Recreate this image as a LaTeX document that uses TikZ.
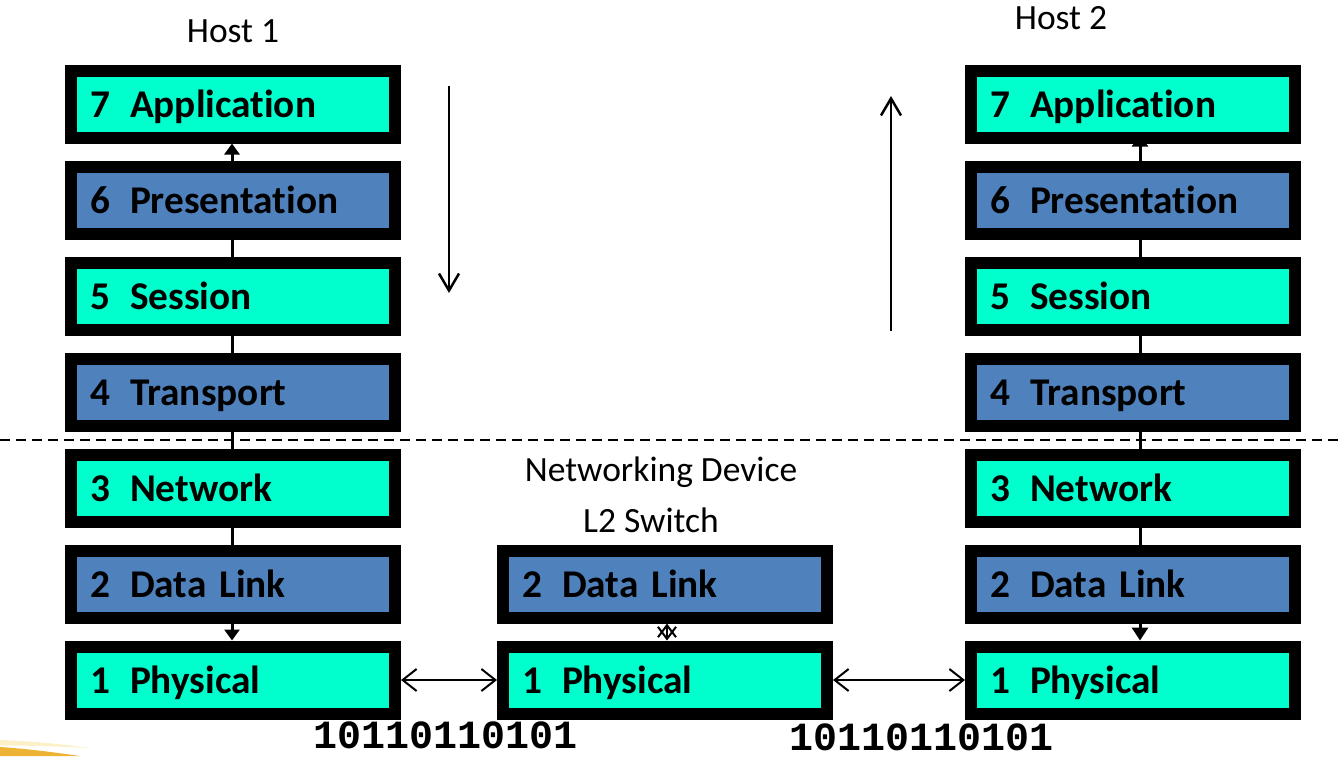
\documentclass[tikz,border=0pt]{standalone}
\usepackage{fontspec}
\newfontfamily\labelfont[Ligatures=NoCommon]{Carlito}
\newfontfamily\bitfont{Liberation Mono}
\usetikzlibrary{arrows.meta}
\pgfdeclarelayer{bg}
\pgfdeclarelayer{paper}
\pgfsetlayers{paper,bg,main}

\definecolor{layeraqua}{HTML}{00FFCC}
\definecolor{layerblue}{HTML}{4F81BD}
\definecolor{swoosh}{HTML}{EDB334}
\definecolor{swooshpale}{HTML}{FBF0C8}

\newcommand{\numgap}{\hspace{7pt}}

\begin{document}
\begin{tikzpicture}[x=1pt,y=-1pt,
  layerbox/.style={draw=black, line width=12pt, minimum width=324pt,
    minimum height=67pt, inner xsep=19pt, inner ysep=0pt, text width=286pt,
    align=left, text height=30pt, text depth=4pt,
    font=\labelfont\bfseries\fontsize{39.3}{42}\selectfont},
  aqualayer/.style={layerbox, fill=layeraqua},
  bluelayer/.style={layerbox, fill=layerblue},
  caption/.style={font=\labelfont\fontsize{35.5}{38}\selectfont, anchor=base, inner sep=0pt},
  bits/.style={font=\bitfont\bfseries\fontsize{40}{42}\selectfont, anchor=base, inner sep=0pt},
  link/.style={line width=3pt},
  uptip/.style={-{Triangle[length=11pt,width=15pt]}},
  wire/.style={line width=2pt, {Straight Barb[length=14pt,width=22pt]}-{Straight Barb[length=14pt,width=22pt]}},
  flow/.style={line width=2.5pt, -{Straight Barb[length=17pt,width=20pt]}},
  boundary/.style={line width=1.5pt, dash pattern=on 10pt off 6pt}
]
\useasboundingbox (0,0) rectangle (1341,756);
\begin{pgfonlayer}{paper}
\fill[white] (0,0) rectangle (1341,756);
% decorative swoosh in the lower left corner
\fill[swooshpale] (0,740) .. controls (30,741) and (60,744) .. (90,748)
  .. controls (60,746.5) and (30,745.5) .. (0,745.5) -- cycle;
\fill[swoosh] (0,747) .. controls (30,749) and (55,752.5) .. (80,756)
  -- (0,756) -- cycle;
\end{pgfonlayer}

% host 1 stack
\node[aqualayer] (l7) at (233,104) {7 \numgap Application};
\node[bluelayer] (l6) at (233,200) {6 \numgap Presentation};
\node[aqualayer] (l5) at (233,296) {5 \numgap Session};
\node[bluelayer] (l4) at (233,392) {4 \numgap Transport};
\node[aqualayer] (l3) at (233,488) {3 \numgap Network};
\node[bluelayer] (l2) at (233,584) {2 \numgap Data Link};
\node[aqualayer] (l1) at (233,680) {1 \numgap Physical};

% switch
\node[bluelayer] (m2) at (665,584) {2 \numgap Data Link};
\node[aqualayer] (m1) at (665,680) {1 \numgap Physical};

% host 2 stack
\node[aqualayer] (r7) at (1133,104) {7 \numgap Application};
\node[bluelayer] (r6) at (1133,200) {6 \numgap Presentation};
\node[aqualayer] (r5) at (1133,296) {5 \numgap Session};
\node[bluelayer] (r4) at (1133,392) {4 \numgap Transport};
\node[aqualayer] (r3) at (1133,488) {3 \numgap Network};
\node[bluelayer] (r2) at (1133,584) {2 \numgap Data Link};
\node[aqualayer] (r1) at (1133,680) {1 \numgap Physical};

% captions
\node[caption] (host1) at (233,42) {Host 1};
\node[caption] (host2) at (1061,29) {Host 2};
\node[caption] (netdev) at (661,481) {Networking Device};
\node[caption] (l2sw) at (651,532) {L2 Switch};

% inter-layer links, kept behind the boxes
\begin{pgfonlayer}{bg}
\draw[link, uptip] ([xshift=-1pt]l6.north) -- ([xshift=-1pt]l7.south);
\draw[link] ([xshift=-1pt]l6.south) -- ([xshift=-1pt]l5.north);
\draw[link] ([xshift=-1pt]l5.south) -- ([xshift=-1pt]l4.north);
\draw[link] ([xshift=-1pt]l4.south) -- ([xshift=-1pt]l3.north);
\draw[link] ([xshift=-1pt]l3.south) -- ([xshift=-1pt]l2.north);
\draw[link, uptip] ([xshift=-1pt]l2.south) -- ([xshift=-1pt]l1.north);

\draw[line width=2pt, {Straight Barb[length=12pt,width=18pt]}-{Straight Barb[length=12pt,width=18pt]}]
  ([xshift=2pt]m2.south) -- ([xshift=2pt]m1.north);

\draw[link, -{Triangle[length=11pt,width=16pt]}] ([xshift=7pt]r6.north) -- ([xshift=7pt,yshift=8pt]r7.south);
\draw[link] ([xshift=7pt]r6.south) -- ([xshift=7pt]r5.north);
\draw[link] ([xshift=7pt]r5.south) -- ([xshift=7pt]r4.north);
\draw[link] ([xshift=7pt]r4.south) -- ([xshift=7pt]r3.north);
\draw[link] ([xshift=7pt]r3.south) -- ([xshift=7pt]r2.north);
\draw[link, -{Triangle[length=13pt,width=16pt]}] ([xshift=7pt]r2.south) -- ([xshift=7pt]r1.north);
\end{pgfonlayer}

% physical media
\draw[wire] (l1.east) -- (m1.west);
\draw[wire] (m1.east) -- (r1.west);
\node[bits] (bitsL) at (446,748) {10110110101};
\node[bits] (bitsR) at (922,750) {10110110101};

% data flow direction
\coordinate (downtop) at (449,86);
\coordinate (downbot) at (449,293);
\draw[flow] (downtop) -- (downbot);
\coordinate (upbot) at (891,331);
\coordinate (uptop) at (891,96);
\draw[flow] (upbot) -- (uptop);

% host / network boundary
\coordinate (dashL) at (0,440);
\coordinate (dashR) at (1341,440);
\draw[boundary] (dashL) -- (dashR);
\end{tikzpicture}
\end{document}
